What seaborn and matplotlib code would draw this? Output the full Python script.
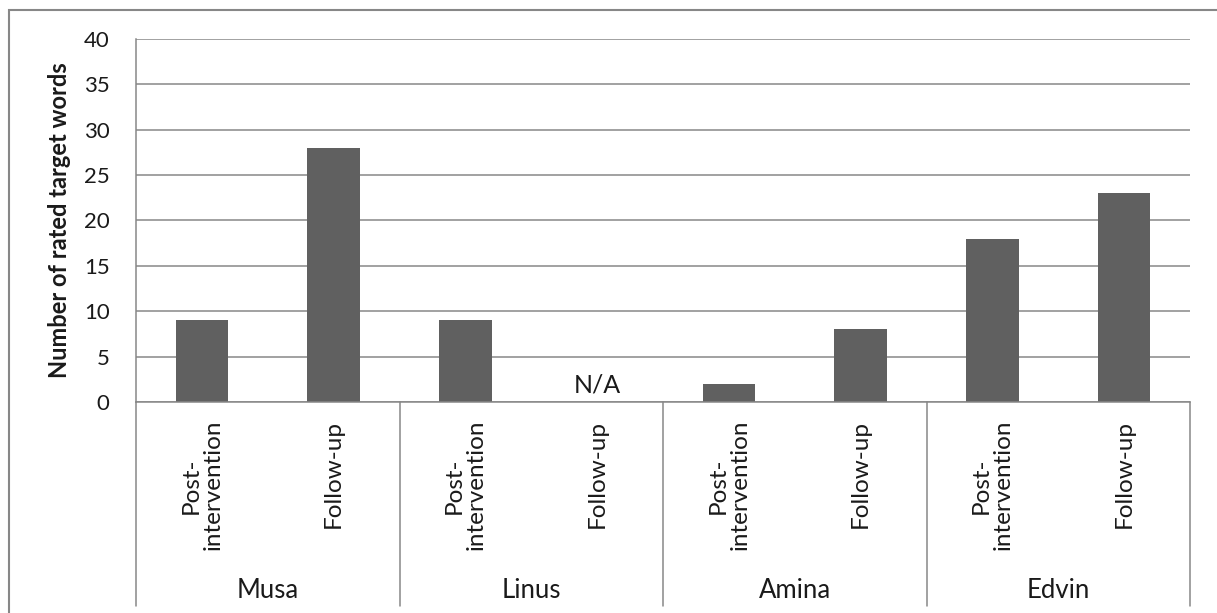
import numpy as np
import pandas as pd
import matplotlib
matplotlib.use("Agg")
import matplotlib.pyplot as plt
import matplotlib.transforms as mtransforms
from matplotlib.lines import Line2D
from matplotlib.patches import Rectangle
import seaborn as sns

# Rated target words per participant at each assessment point
participants = ["Musa", "Linus", "Amina", "Edvin"]
phases = ["Post-\nintervention", "Follow-up"]
post_intervention = [9, 9, 2, 18]
follow_up = [28, np.nan, 8, 23]   # Linus was not assessed at follow-up
y_ticks = [0, 5, 10, 15, 20, 25, 30, 35, 40]
y_label = "Number of rated target words"
missing_label = "N/A"

rows = []
for name, post, fu in zip(participants, post_intervention, follow_up):
    rows.append({"participant": name, "phase": phases[0], "count": post})
    rows.append({"participant": name, "phase": phases[1], "count": fu})
df = pd.DataFrame(rows)
df["slot"] = df["participant"] + " | " + df["phase"]
slots = list(df["slot"])

sns.set_theme(style="white")
plt.rcParams["font.family"] = ["Lato", "DejaVu Sans"]

W, H = 1217, 613
fig = plt.figure(figsize=(W / 100, H / 100), dpi=100)
ax = fig.add_axes([136 / W, 1 - 402 / H, (1190 - 136) / W, (402 - 39) / H])

grey = "#878787"
bar_color = "#606060"
text_color = "#1a1a1a"
fs = 16
cat_fs = 17.5

sns.barplot(data=df, x="slot", y="count", order=slots, color=bar_color,
            width=0.4, saturation=1, errorbar=None, linewidth=0, ax=ax)

ax.set_ylim(0, 40)
ax.set_xlim(-0.5, len(slots) - 0.5)
ax.set_yticks(y_ticks)
ax.set_yticklabels([str(t) for t in y_ticks], fontsize=fs, color=text_color)
ax.tick_params(axis="y", length=0, pad=19)
ax.tick_params(axis="x", length=0, labelbottom=False)
ax.set_xlabel("")
ax.set_ylabel("")

ax.yaxis.grid(True, color=grey, linewidth=1.1)
ax.set_axisbelow(True)
for side in ["top", "right"]:
    ax.spines[side].set_visible(False)
for side in ["left", "bottom"]:
    ax.spines[side].set_color(grey)
    ax.spines[side].set_linewidth(1.1)

ax_w = 1190 - 136
ax_h = 402 - 39
ax.text((60 - 136) / ax_w, 0.5, y_label, transform=ax.transAxes,
        rotation=90, ha="center", va="center", fontsize=17,
        fontweight="bold", color=text_color)

# Multi-level category axis below the plot
blend = mtransforms.blended_transform_factory(ax.transData, ax.transAxes)
label_top = (402 - 420) / ax_h
group_y = (402 - 590) / ax_h
sep_bottom = (402 - 606) / ax_h

for i, slot in enumerate(slots):
    phase = df.loc[i, "phase"]
    ax.text(i, label_top, phase, transform=blend, rotation=90,
            ha="center", va="top", multialignment="center",
            fontsize=cat_fs, color=text_color, linespacing=1.05)

for g, name in enumerate(participants):
    ax.text(2 * g + 0.5, group_y, name, transform=blend, ha="center",
            va="center", fontsize=18.5, color=text_color)

for b in range(len(participants) + 1):
    x = 2 * b - 0.5
    ax.add_line(Line2D([x, x], [0, sep_bottom], transform=blend,
                       color=grey, linewidth=1.1, clip_on=False))

# Label for the missing follow-up value
for i, v in enumerate(df["count"]):
    if np.isnan(v):
        ax.text(i, 0.6, missing_label, ha="center", va="bottom",
                fontsize=18, color=text_color)

# Chart frame
fig.add_artist(Rectangle((9 / W, -0.1), 1.2, 1 - 9.5 / H + 0.1,
                         transform=fig.transFigure, fill=False,
                         edgecolor=grey, linewidth=1.5, clip_on=False))

fig.savefig("out.png", dpi=100, facecolor="white")
